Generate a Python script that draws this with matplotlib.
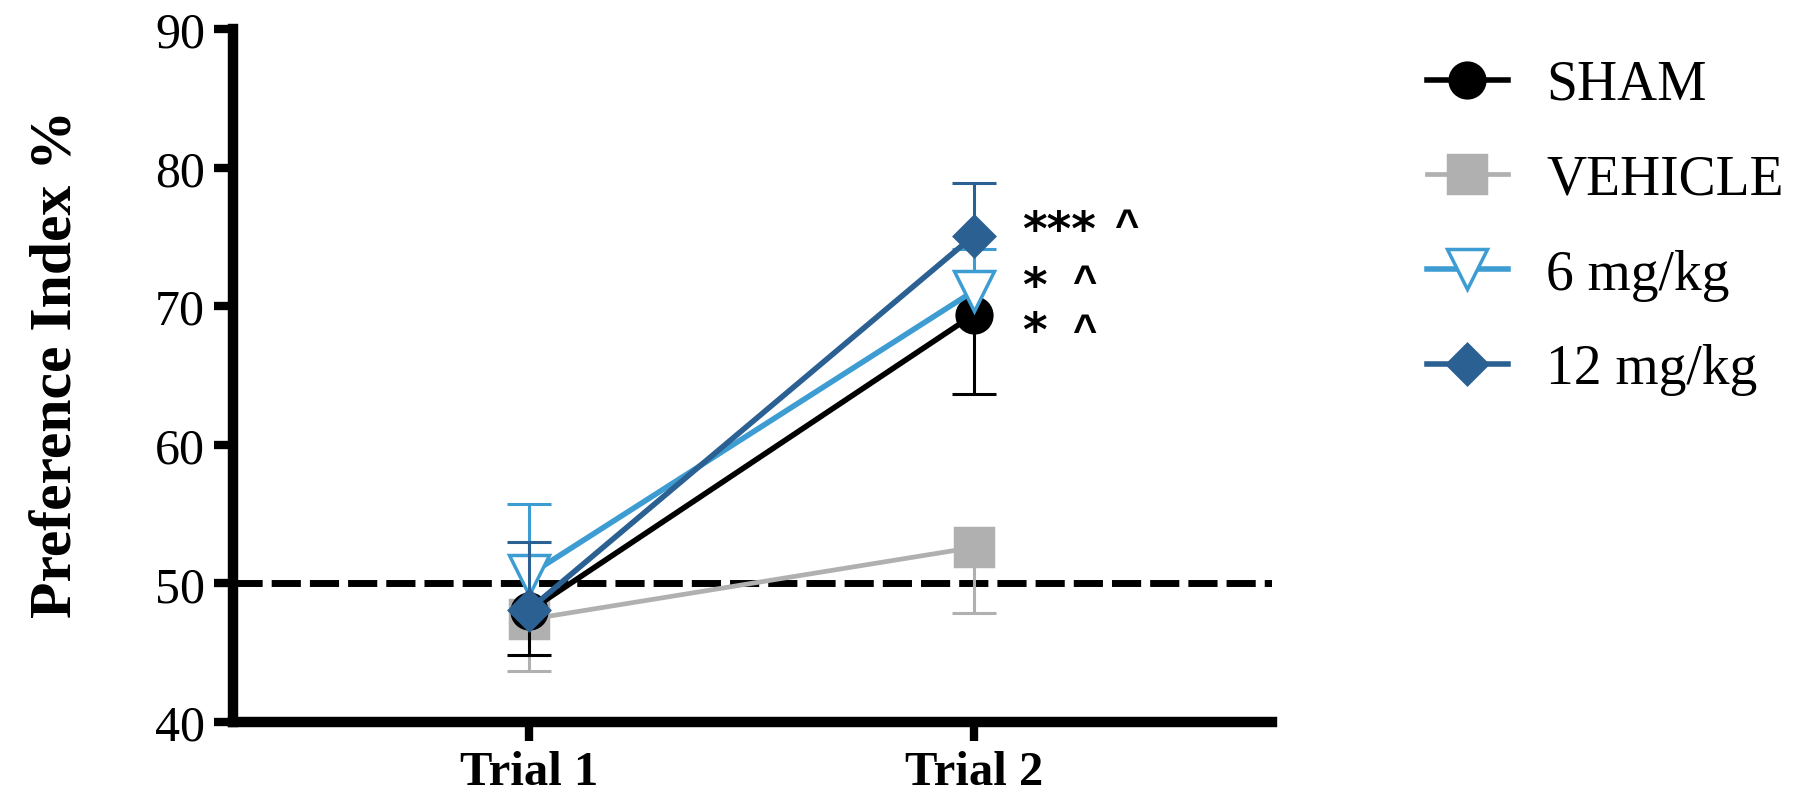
import numpy as np
import matplotlib
matplotlib.use("Agg")
import matplotlib.pyplot as plt

plt.rcParams["font.family"] = ["Liberation Serif", "DejaVu Serif"]

trials = ["Trial 1", "Trial 2"]
groups = ["SHAM", "VEHICLE", "6 mg/kg", "12 mg/kg"]

sham_mean = [48.0, 69.4]
sham_sem = [3.2, 5.7]
vehicle_mean = [47.4, 52.6]
vehicle_sem = [3.7, 4.7]
low_dose_mean = [50.6, 71.1]
low_dose_sem = [5.1, 3.0]
high_dose_mean = [48.1, 75.1]
high_dose_sem = [4.9, 3.8]

chance_level = 50

x = np.arange(len(trials))

fig = plt.figure(figsize=(17.95, 8.12), dpi=100)
ax = fig.add_axes([233 / 1795, 1 - 723 / 812, (1272 - 233) / 1795, (723 - 30) / 812])

# name, mean, sem, colour, marker, size, face, bar direction (-1 below, +1 above), zorder, line width
series = [
    ("VEHICLE", vehicle_mean, vehicle_sem, "#b0b0b0", "s", 27, "#b0b0b0", -1, 3, 3.4),
    ("SHAM", sham_mean, sham_sem, "black", "o", 25, "black", -1, 4, 4.0),
    ("6 mg/kg", low_dose_mean, low_dose_sem, "#3d9dd3", "v", 29, "white", 1, 5, 4.0),
    ("12 mg/kg", high_dose_mean, high_dose_sem, "#2b6093", "D", 20, "#2b6093", 1, 6, 4.0),
]

handles = {}
for name, mean, sem, color, marker, ms, face, direction, z, lw in series:
    mean = np.array(mean)
    ends = mean + direction * np.array(sem)
    ax.vlines(x, mean, ends, color=color, lw=2.2, zorder=z)
    ax.plot(x, ends, ls="none", marker="_", ms=32, mew=2.2, color=color, zorder=z)
    h, = ax.plot(x, mean, color=color, lw=lw, marker=marker, ms=ms,
                 mfc=face, mec=color, mew=2.5, zorder=z + 0.5)
    handles[name] = h

ax.axhline(chance_level, color="black", lw=5, dashes=(4.2, 1.3), zorder=2)

# significance marks next to Trial 2
star_kw = dict(ha="left", va="center", fontsize=34, fontweight="bold", family="DejaVu Sans")
caret_kw = dict(ha="center", va="center", fontsize=30, fontweight="bold", family="Liberation Sans")
ax.text(1.108, 75.4, "***", **star_kw)
ax.text(1.108, 69.74, "*\n*", linespacing=0.99, **star_kw)
ax.text(1.342, 75.73, "^", **caret_kw)
ax.text(1.249, 69.92, "^\n^", linespacing=1.31, **caret_kw)

ax.set_xlim(-0.665, 1.67)
ax.set_ylim(40, 90)
ax.set_yticks(np.arange(40, 91, 10))
ax.set_xticks(x)
ax.set_xticklabels(trials, fontsize=35, fontweight="bold")
ax.tick_params(axis="y", labelsize=36, width=6, length=14, pad=6)
ax.tick_params(axis="x", width=6, length=14, pad=6)
for side in ["top", "right"]:
    ax.spines[side].set_visible(False)
for side in ["left", "bottom"]:
    ax.spines[side].set_linewidth(7.5)
    ax.spines[side].set_capstyle("projecting")

ax.set_ylabel("Preference Index %", fontsize=43, fontweight="bold")
ax.yaxis.set_label_coords(-0.143, 0.518)

ax.legend([handles[g] for g in groups], groups, loc="upper left",
          bbox_to_anchor=(1427 / 1795, 1 - 60 / 812), bbox_transform=fig.transFigure,
          frameon=False, fontsize=40, borderpad=0, borderaxespad=0,
          handlelength=1.45, handletextpad=0.7, labelspacing=0.77)

fig.savefig("out.png", dpi=100)
